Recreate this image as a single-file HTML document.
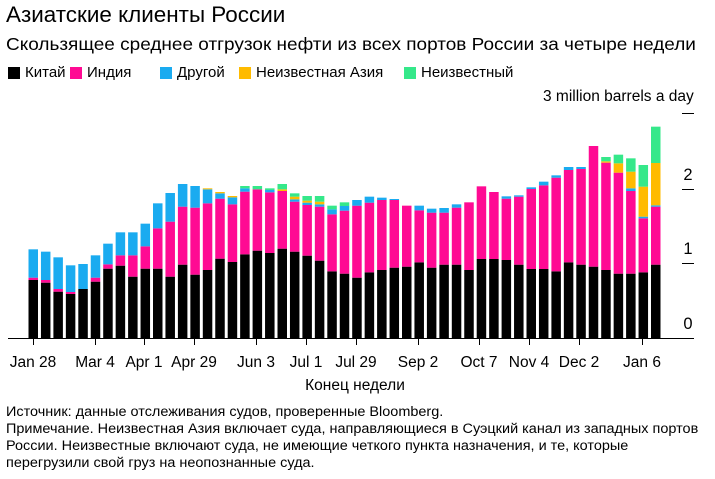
<!DOCTYPE html><html><head><meta charset="utf-8"><style>
body{margin:0;background:#fff;font-family:"Liberation Sans",sans-serif;color:#000;width:715px;height:479px;overflow:hidden;position:relative}
.t{position:absolute;white-space:nowrap;transform-origin:left top}
.sq{position:absolute;width:12px;height:12px;top:67px}
</style></head><body>
<div class="t" style="left:6px;top:2px;font-size:22px;transform:scaleX(1.02)">Азиатские клиенты России</div>
<div class="t" style="left:6px;top:34px;font-size:17.5px;transform:scaleX(1.085)">Скользящее среднее отгрузок нефти из всех портов России за четыре недели</div>
<div class="sq" style="left:8px;background:#000"></div><div class="t" style="left:25px;top:64px;font-size:15px">Китай</div>
<div class="sq" style="left:70px;background:#ff0a93"></div><div class="t" style="left:87px;top:64px;font-size:15px">Индия</div>
<div class="sq" style="left:160px;background:#1aabf0"></div><div class="t" style="left:177px;top:64px;font-size:15px">Другой</div>
<div class="sq" style="left:239px;background:#ffbb00"></div><div class="t" style="left:256px;top:64px;font-size:15px">Неизвестная Азия</div>
<div class="sq" style="left:404px;background:#35e88a"></div><div class="t" style="left:421px;top:64px;font-size:15px">Неизвестный</div>
<div class="t" style="left:543px;top:88px;font-size:15.5px">3 million barrels a day</div>
<svg id="s" width="715" height="479" style="position:absolute;left:0;top:0" font-family="Liberation Sans" font-size="15.5"></svg>
<div class="t" style="left:6px;top:403px;font-size:13.5px;line-height:17px;transform:scaleX(1.07)">Источник: данные отслеживания судов, проверенные Bloomberg.<br>Примечание. Неизвестная Азия включает суда, направляющиеся в Суэцкий канал из западных портов<br>России. Неизвестные включают суда, не имеющие четкого пункта назначения, и те, которые<br>перегрузили свой груз на неопознанные суда.</div>
<script>
const A=[[300,293,208],[308,300,215],[335,327,232],[342,336,256],[327,327,252],[305,293,226],[266,253,191],[257,226,157],[290,226,157],[266,199,131],[266,145,70],[290,125,39],[254,80,12],[284,83,18],[270,70,28,25],[236,56,40,36],[246,73,52,48],[223,35,25,25,18],[212,28,28,28,18],[219,37,30,30,25],[206,33,33,28,12],[215,65,58,50,40],[227,75,68,62,48],[242,80,73,65,48],[274,103,88,88,77],[281,92,78,78,67]].map(r=>r.map(z=>180+z/3));
const B=[[533,317,300],[517,308,290],[510,300,293],[503,300,297],[500,317,317],[487,331,317],[503,338,326],[494,338,324],[494,323,313],[510,307,307],[477,259,259],[477,276,276],[480,296,289],[494,290,286],[507,267,262],[507,256,245],[514,233,226],[487,210,201],[494,207,201],[500,138,138],[510,188,188,184,171],[521,218,218,190,164],[521,273,265,215,175],[517,355,350,260,195],[494,320,316,189,80]].map(r=>r.map(z=>100+z/3));
const D=A.concat(B),C=["#000","#ff0a93","#1aabf0","#ffbb00","#35e88a"],base=338;let h="";
D.forEach((r,i)=>{let x=28.5+i*12.45,prev=base;r.forEach((y,k)=>{if(prev-y>0.2)h+=`<rect x="${x}" y="${y}" width="9.5" height="${prev-y}" fill="${C[k]}"/>`;prev=Math.min(prev,y);});});
h+=`<line x1="8" x2="694" y1="338.5" y2="338.5" stroke="#000"/>`;
[[263,"1"],[189,"2"],[113,""]].forEach(([y,l])=>{h+=`<line x1="682" x2="694" y1="${y}.5" y2="${y}.5" stroke="#000"/>`;if(l)h+=`<text x="688" y="${y-9}" text-anchor="middle" font-size="16.5">${l}</text>`;});
h+=`<text x="688" y="329" text-anchor="middle" font-size="16.5">0</text>`;
[[33,"Jan 28"],[95,"Mar 4"],[144,"Apr 1"],[194,"Apr 29"],[256,"Jun 3"],[306,"Jul 1"],[356,"Jul 29"],[418,"Sep 2"],[479,"Oct 7"],[529,"Nov 4"],[579,"Dec 2"],[642,"Jan 6"]].forEach(([x,l])=>{h+=`<line x1="${x}.5" x2="${x}.5" y1="338" y2="345" stroke="#000"/><text x="${x}" y="367" text-anchor="middle">${l}</text>`;});
h+=`<text x="355" y="390" text-anchor="middle">Конец недели</text>`;
document.getElementById("s").innerHTML=h;
</script></body></html>
